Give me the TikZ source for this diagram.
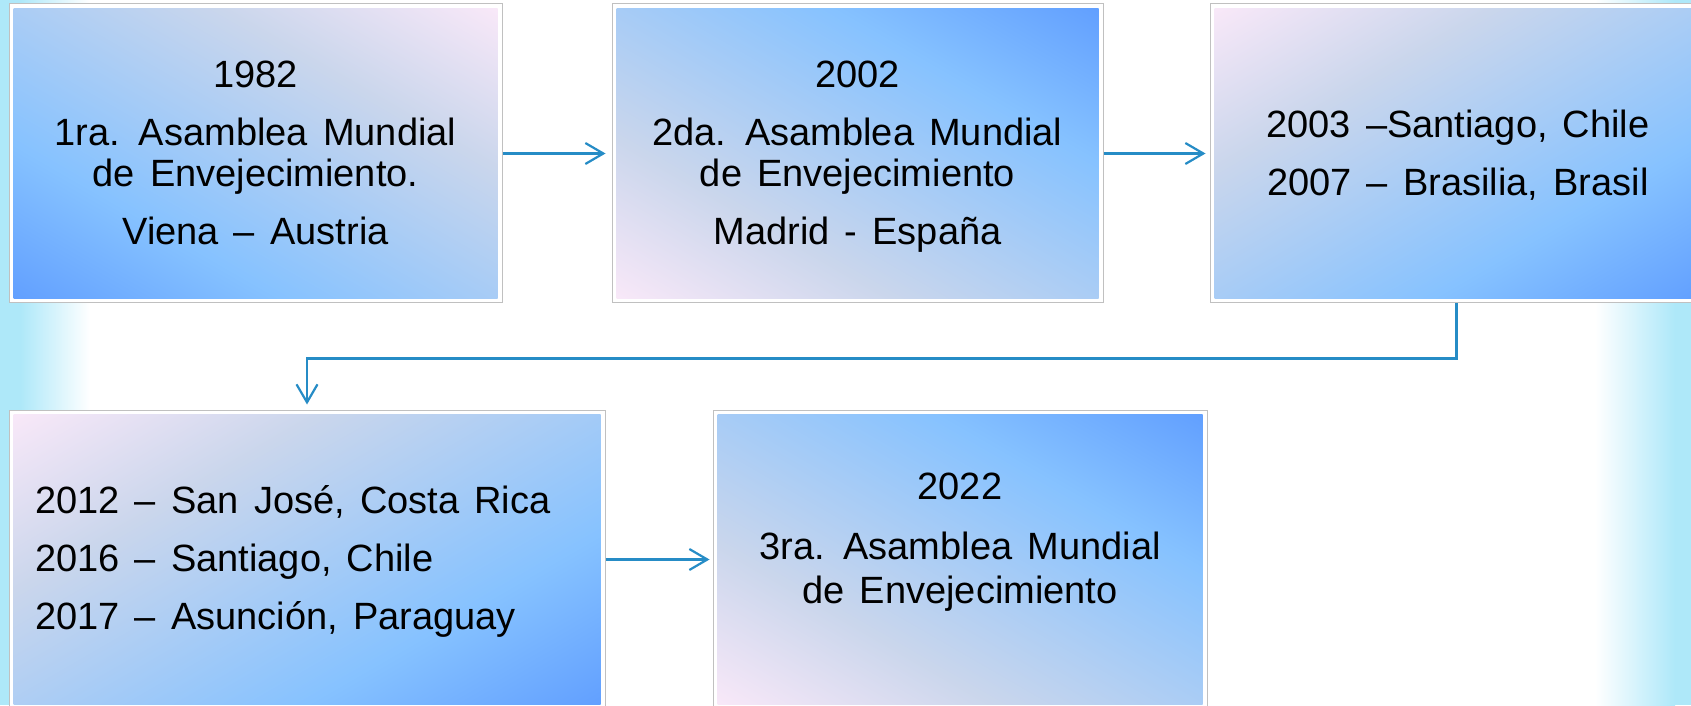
\documentclass[tikz,border=0pt]{standalone}
\usepackage{fontspec}
\setmainfont{Liberation Sans}
\usetikzlibrary{arrows.meta}
\definecolor{gBlue}{RGB}{98,160,255}
\definecolor{gSky}{RGB}{134,194,255}
\definecolor{gLav}{RGB}{202,214,236}
\definecolor{gPink}{RGB}{248,232,248}
\definecolor{bgCyan}{RGB}{174,232,249}
\definecolor{lineBlue}{RGB}{38,140,198}
\definecolor{frameGray}{RGB}{192,192,192}
\pgfdeclarehorizontalshading{boxgrad}{100bp}{color(0bp)=(gBlue); color(29.17bp)=(gBlue); color(40.42bp)=(gSky); color(59.17bp)=(gLav); color(70.83bp)=(gPink); color(100bp)=(gPink)}
\tikzset{
  gbox/.style 2 args={rectangle, draw=frameGray, line width=1pt, fill=white, inner sep=0pt,
    minimum width=493pt, minimum height=299pt,
    path picture={\begin{scope}
      \clip ([shift={(4.5pt,-4.5pt)}]path picture bounding box.north west) rectangle
            ([shift={(-4.5pt,4.5pt)}]path picture bounding box.south east);
      \shade[shading=boxgrad, shading angle=#1]
        ([shift={(-#2pt,-#2pt)}]path picture bounding box.center) rectangle
        ([shift={(#2pt,#2pt)}]path picture bounding box.center);
      \end{scope}}},
  txt/.style={inner sep=0pt, align=center, text=black,
    font={\fontsize{38}{41}\selectfont\spaceskip=0.4em\relax}},
  conn/.style={draw=lineBlue, line width=2.4pt,
    -{Straight Barb[length=18pt,width=21pt,line width=2.2pt]}},
}
\begin{document}
\begin{tikzpicture}[x=1pt,y=1pt]
\useasboundingbox (0,0) rectangle (1691,705);
\clip (0,0) rectangle (1691,705);
\fill[white] (0,0) rectangle (1691,705);
\fill[bgCyan] (0,0) rectangle (20,705);
\shade[left color=bgCyan, right color=white] (20,0) rectangle (90,705);
\shade[left color=white, right color=bgCyan] (1595,0) rectangle (1675,705);
\fill[bgCyan] (1675,0) rectangle (1691,705);

\node[gbox={60}{295.8}] (b1) at (255.5,551.5) {};
\node[gbox={240}{295.2}, minimum width=491pt] (b2) at (857.5,551.5) {};
\node[gbox={120}{295.8}] (b3) at (1456.5,551.5) {};
\node[gbox={120}{327}, minimum width=596pt] (b4) at (307,145.5) {};
\node[gbox={240}{296.2}, minimum width=494pt] (b5) at (960,145.5) {};

\node[txt] (t1) at ([yshift=1pt]b1.center) {1982\\[17pt]1ra. Asamblea Mundial\\de Envejecimiento.\\[17pt]Viena – Austria};
\node[txt] (t2) at ([yshift=-3pt]b2.center) {2002\\[17pt]2da. Asamblea Mundial\\de Envejecimiento\\[17pt]Madrid - España};
\node[txt] (t3) at ([xshift=1.5pt,yshift=-1.5pt]b3.center) {2003 –Santiago, Chile\\[17pt]2007 – Brasilia, Brasil};
\node[txt, align=left, anchor=west] (t4) at (35,144) {2012 – San José, Costa Rica\\[17pt]2016 – Santiago, Chile\\[17pt]2017 – Asunción, Paraguay};
\node[txt] (t5) at ([yshift=17.5pt]b5.center) {2022\\[19pt]3ra. Asamblea Mundial\\[3pt]de Envejecimiento};

\draw[conn, shorten >=6pt] (b1.east) -- (b2.west);
\draw[conn, shorten >=4pt] (b2.east) -- (b3.west);
\draw[conn, shorten >=5pt] (b3.south) -- ++(0,-55) -| (b4.north);
\draw[conn, shorten >=3pt] (b4.east) -- (b5.west);
\end{tikzpicture}
\end{document}
